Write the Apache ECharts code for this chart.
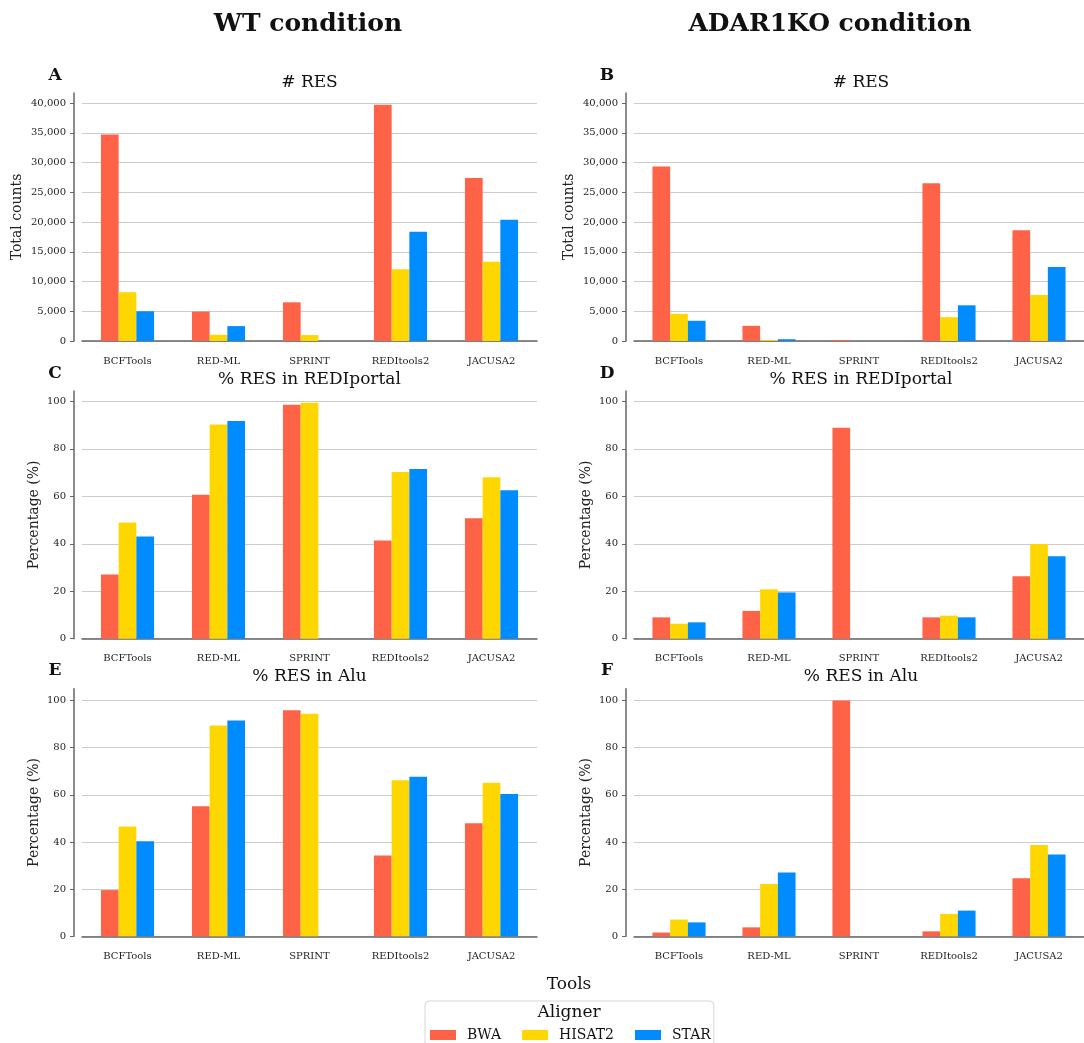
<!DOCTYPE html>
<html>
<head>
<meta charset="utf-8">
<script src="https://cdn.jsdelivr.net/npm/echarts@6/dist/echarts.min.js"></script>
<style>
html,body{margin:0;padding:0;background:#fff;}
#chart{width:1084px;height:1043px;}
</style>
</head>
<body>
<div id="chart"></div>
<script>
// ---- Data ----
const tools = ['BCFTools', 'RED-ML', 'SPRINT', 'REDItools2', 'JACUSA2'];
const aligners = ['BWA', 'HISAT2', 'STAR'];
const colors = ['#FF6347', '#FFD700', '#008CFF'];

// A: WT # RES
const wtResBWA   = [34700, 4950, 6500, 39700, 27400];
const wtResHISAT2 = [8200, 1050, 1000, 12050, 13300];
const wtResSTAR  = [5000, 2500, 0, 18350, 20400];
// B: ADAR1KO # RES
const koResBWA   = [29350, 2550, 150, 26500, 18600];
const koResHISAT2 = [4550, 150, 0, 4000, 7750];
const koResSTAR  = [3400, 300, 0, 6000, 12450];
// C: WT % RES in REDIportal
const wtPortalBWA   = [27.0, 60.7, 98.6, 41.4, 50.8];
const wtPortalHISAT2 = [49.0, 90.3, 99.4, 70.2, 68.0];
const wtPortalSTAR  = [43.1, 91.7, 0, 71.5, 62.5];
// D: ADAR1KO % RES in REDIportal
const koPortalBWA   = [9.0, 11.7, 88.9, 9.0, 26.3];
const koPortalHISAT2 = [6.3, 20.8, 0, 9.7, 39.9];
const koPortalSTAR  = [6.9, 19.5, 0, 9.0, 34.7];
// E: WT % RES in Alu
const wtAluBWA   = [19.6, 55.2, 95.9, 34.3, 47.9];
const wtAluHISAT2 = [46.6, 89.4, 94.4, 66.2, 65.1];
const wtAluSTAR  = [40.3, 91.5, 0, 67.7, 60.3];
// F: ADAR1KO % RES in Alu
const koAluBWA   = [1.6, 3.8, 100, 2.1, 24.6];
const koAluHISAT2 = [7.1, 22.2, 0, 9.5, 38.7];
const koAluSTAR  = [5.9, 27.1, 0, 10.9, 34.7];

const countTicks = [0, 5000, 10000, 15000, 20000, 25000, 30000, 35000, 40000];
const pctTicks = [0, 20, 40, 60, 80, 100];

const panelLetters = ['A', 'B', 'C', 'D', 'E', 'F'];
const panelTitles = ['# RES', '# RES', '% RES in REDIportal', '% RES in REDIportal', '% RES in Alu', '% RES in Alu'];
const yNames = ['Total counts', 'Total counts', 'Percentage (%)', 'Percentage (%)', 'Percentage (%)', 'Percentage (%)'];
const columnTitles = ['WT condition', 'ADAR1KO condition'];

const panels = [
  [wtResBWA, wtResHISAT2, wtResSTAR],
  [koResBWA, koResHISAT2, koResSTAR],
  [wtPortalBWA, wtPortalHISAT2, wtPortalSTAR],
  [koPortalBWA, koPortalHISAT2, koPortalSTAR],
  [wtAluBWA, wtAluHISAT2, wtAluSTAR],
  [koAluBWA, koAluHISAT2, koAluSTAR]
];

// ---- Layout ----
const FONT = 'DejaVu Serif';
const colLeft = [82, 634];
const colWidth = [455, 454];
const rowTop = [93, 391, 688.7];
const rowHeight = [248, 247.7, 247.6];
const yGap = [50, 50, 33, 33, 33, 33];

function rowMax(r) {
  const vals = [].concat(...panels[2 * r], ...panels[2 * r + 1]);
  return Math.max(...vals) * 1.05;
}

const grids = [], xAxes = [], yAxes = [], series = [], titles = [];
for (let p = 0; p < 6; p++) {
  const r = Math.floor(p / 2), c = p % 2;
  grids.push({left: colLeft[c], top: rowTop[r], width: colWidth[c], height: rowHeight[r]});
  xAxes.push({
    type: 'category', gridIndex: p, data: tools, offset: 9,
    axisLine: {lineStyle: {color: '#666', width: 1.5}},
    axisTick: {alignWithLabel: true, length: 4, lineStyle: {color: '#666', width: 1}},
    axisLabel: {fontFamily: FONT, fontSize: 10, color: '#222', margin: 6}
  });
  const ticks = r === 0 ? countTicks : pctTicks;
  yAxes.push({
    type: 'value', gridIndex: p, min: 0, max: rowMax(r), offset: 8,
    name: yNames[p], nameLocation: 'middle', nameGap: yGap[p],
    nameTextStyle: {fontFamily: FONT, fontSize: 14, color: '#222'},
    axisLine: {show: true, lineStyle: {color: '#666', width: 1.5}},
    axisTick: {show: true, length: 4, customValues: ticks, lineStyle: {color: '#666'}},
    axisLabel: {fontFamily: FONT, fontSize: 10, color: '#222', margin: 8, customValues: ticks,
      formatter: v => r === 0 ? Number(v).toLocaleString('en-US') : String(v)},
    splitLine: {show: true, lineStyle: {color: '#cccccc', width: 1}}
  });
  for (let a = 0; a < 3; a++) {
    series.push({
      type: 'bar', name: aligners[a], xAxisIndex: p, yAxisIndex: p,
      data: panels[p][a], barWidth: 17.7, barGap: '0%',
      itemStyle: {color: colors[a]}, silent: true
    });
  }
  const cx = colLeft[c] + colWidth[c] / 2;
  titles.push({text: panelTitles[p], left: cx, top: [74, 371, 668][r], textAlign: 'center', padding: 0,
    textStyle: {fontFamily: FONT, fontSize: 17, fontWeight: 'normal', color: '#111'}});
  titles.push({text: panelLetters[p], left: [55, 607][c], top: [67, 365, 662][r], textAlign: 'center', padding: 0,
    textStyle: {fontFamily: FONT, fontSize: 17, fontWeight: 'bold', color: '#111'}});
}
titles.push({text: columnTitles[0], left: 308, top: 12, textAlign: 'center', padding: 0,
  textStyle: {fontFamily: FONT, fontSize: 25, fontWeight: 'bold', color: '#111'}});
titles.push({text: columnTitles[1], left: 830, top: 12, textAlign: 'center', padding: 0,
  textStyle: {fontFamily: FONT, fontSize: 25, fontWeight: 'bold', color: '#111'}});
titles.push({text: 'Tools', left: 569, top: 976, textAlign: 'center', padding: 0,
  textStyle: {fontFamily: FONT, fontSize: 17, fontWeight: 'normal', color: '#111'}});
titles.push({text: 'Aligner', left: 569, top: 1004, textAlign: 'center', padding: 0,
  textStyle: {fontFamily: FONT, fontSize: 17, fontWeight: 'normal', color: '#111'}});

const chart = echarts.init(document.getElementById('chart'), null, {renderer: 'canvas'});
chart.setOption({
  animation: false,
  backgroundColor: '#fff',
  title: titles,
  grid: grids,
  xAxis: xAxes,
  yAxis: yAxes,
  series: series,
  legend: {
    data: aligners, left: 425, top: 1001, orient: 'horizontal',
    padding: [27, 3, 10, 5], itemWidth: 26, itemHeight: 10, itemGap: 21,
    borderColor: '#d6d6d6', borderWidth: 1, borderRadius: 4,
    icon: 'rect', selectedMode: false,
    textStyle: {fontFamily: FONT, fontSize: 14, color: '#111', padding: [0, 0, 0, 6]}
  }
});
</script>
</body>
</html>
